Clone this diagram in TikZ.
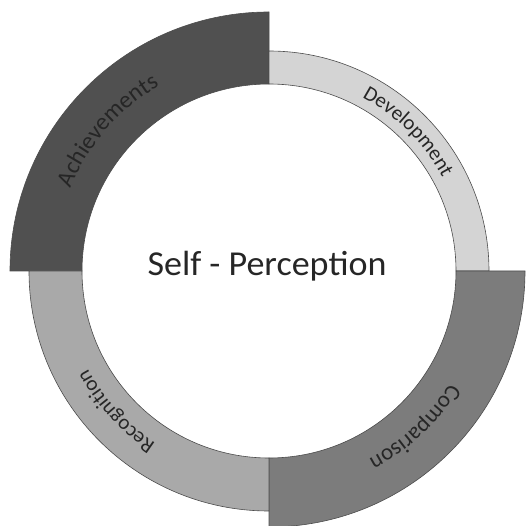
\documentclass[tikz,border=0pt]{standalone}
\usepackage{fontspec}
\setmainfont{Carlito}
\usetikzlibrary{decorations.text}
\definecolor{AchieveGray}{HTML}{505050}
\definecolor{DevelopGray}{HTML}{D4D4D4}
\definecolor{CompareGray}{HTML}{7C7C7C}
\definecolor{RecogGray}{HTML}{A9A9A9}
\definecolor{LabelInk}{HTML}{262626}

\begin{document}
\begin{tikzpicture}[x=1pt,y=1pt,
  seg/.style={draw=black!70,line width=0.6pt},
  ringlabel/.style={decorate,decoration={text along path,text align=center,text={#1}}}]
  \useasboundingbox (-269,-255) rectangle (256,271);
  % ring quarters: start angle / outer radius / fill
  \foreach \a/\ro/\col in {180/259/AchieveGray,90/220/DevelopGray,0/256/CompareGray,270/240/RecogGray}
    \draw[seg,fill=\col] (\a:187) -- (\a:\ro) arc[start angle=\a,end angle=\a-90,radius=\ro]
      -- ({\a-90}:187) arc[start angle=\a-90,end angle=\a,radius=187] -- cycle;
  % labels run clockwise round the ring
  \path[ringlabel={|\fontsize{24}{24}\selectfont\color{LabelInk}|Achievements}] (209:215) arc[start angle=209,end angle=69,radius=215];
  \path[ringlabel={|\fontsize{21}{21}\selectfont\color{LabelInk}|Development}] (115:197) arc[start angle=115,end angle=-25,radius=197];
  \path[ringlabel={|\fontsize{23}{23}\selectfont\color{LabelInk}|Comparison}] (23:213) arc[start angle=23,end angle=-117,radius=213];
  \path[ringlabel={|\fontsize{21}{21}\selectfont\color{LabelInk}|Recognition}] (292.5:206) arc[start angle=292.5,end angle=152.5,radius=206];
  \node[font=\fontsize{35}{35}\selectfont,text=LabelInk,anchor=base,xscale=1.03] (title) at (-2,-5) {Self - Perception};
\end{tikzpicture}
\end{document}
